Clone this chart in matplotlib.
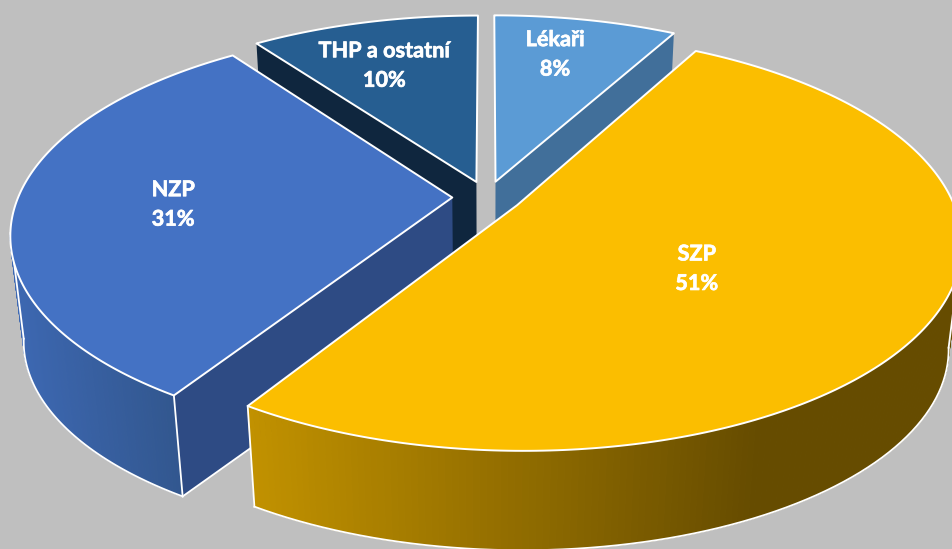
import numpy as np
import matplotlib
matplotlib.use("Agg")
import matplotlib.pyplot as plt
import matplotlib.patheffects as pe
from matplotlib.colors import to_rgb
from matplotlib.patches import Polygon

# slices, clockwise from 12 o'clock
labels = ["Lékaři", "SZP", "NZP", "THP a ostatní"]
shares = [8, 51, 31, 10]

top_colors = ["#5B9BD5", "#FBBE00", "#4472C4", "#265E91"]
inner_colors = ["#416F9A", "#664C00", "#2E4B84", "#0F263E"]
# outer wall gradient, from the left end to the right end
outer_left = ["#416F9A", "#C29200", "#3D68B2", "#1B4468"]
outer_right = ["#416F9A", "#664C00", "#32578F", "#1B4468"]
label_radius = [0.72, 0.46, 0.62, 0.70]
label_shift_x = [-8, -2, -9, -10]   # px
label_shift_y = [-6, 14, 3, 0]      # px

BG = "#BFBFBF"
CX, CY = 487, 197       # pie centre on screen
A, B = 434, 200         # ellipse half axes before perspective
P = 0.173               # perspective strength
EXPLODE = 0.08          # radial offset of the slices
DROP = 106.5            # height of the pie on screen
SHRINK = 0.972          # bottom plane is a bit smaller
LW = 1.3


def project(x, y):
    w = 1 + P * y
    return CX + A * x / w, CY - B * y / w


def lower(sx, sy):
    # same point on the bottom plane
    return CX + (sx - CX) * SHRINK, CY + (sy - CY) * SHRINK + DROP


def slice_points(start, end, n=240):
    theta = np.radians(np.linspace(start, end, n))
    mid = np.radians((start + end) / 2)
    ox, oy = EXPLODE * np.sin(mid), EXPLODE * np.cos(mid)
    arc_x, arc_y = project(ox + np.sin(theta), oy + np.cos(theta))
    return project(ox, oy), arc_x, arc_y, theta


def cut_wall(ax, p1, p2, color, z):
    lo1, lo2 = lower(*p1), lower(*p2)
    ax.add_patch(Polygon([p1, p2, lo2, lo1], fc=color, ec="none", zorder=z))
    ax.plot([lo1[0], lo2[0]], [lo1[1], lo2[1]], color="white", lw=LW, zorder=z + 1)


fig = plt.figure(figsize=(9.52, 5.49), dpi=100, facecolor=BG)
ax = fig.add_axes([0, 0, 1, 1])
ax.set_xlim(0, 952)
ax.set_ylim(549, 0)
ax.axis("off")

edges = np.concatenate([[0], np.cumsum(shares)]) * 3.6
draw_order = [0, 3, 2, 1]   # back slices first

for z, i in enumerate(draw_order):
    start, end = edges[i], edges[i + 1]
    apex, arc_x, arc_y, theta = slice_points(start, end)
    base = z * 10

    # cut walls, only the ones that face the viewer
    if np.sin(np.radians(start)) < -1e-6:
        cut_wall(ax, apex, (arc_x[0], arc_y[0]), inner_colors[i], base + 1)
    if np.sin(np.radians(end)) > 1e-6:
        cut_wall(ax, apex, (arc_x[-1], arc_y[-1]), inner_colors[i], base + 1)

    # outer wall, front part of the rim only, split in strips for the gradient
    front = np.cos(theta) <= -P
    if front.any():
        fx, fy = arc_x[front], arc_y[front]
        lo_x, lo_y = lower(fx, fy)
        c1, c2 = np.array(to_rgb(outer_left[i])), np.array(to_rgb(outer_right[i]))
        x_lo, x_hi = fx.min(), min(fx.max(), 760)
        for k in range(len(fx) - 1):
            t = np.clip((fx[k] - x_lo) / max(x_hi - x_lo, 1), 0, 1)
            col = c1 + (c2 - c1) * t
            ax.fill([fx[k], fx[k + 1], lo_x[k + 1], lo_x[k]],
                    [fy[k], fy[k + 1], lo_y[k + 1], lo_y[k]],
                    fc=col, ec=col, lw=0.8, zorder=base + 2)
        ax.plot(lo_x, lo_y, color="white", lw=LW, zorder=base + 3)
        for j in (0, -1):
            ax.plot([fx[j], lo_x[j]], [fy[j], lo_y[j]], color="white", lw=LW, zorder=base + 3)

    # top face
    top = np.column_stack([np.r_[apex[0], arc_x], np.r_[apex[1], arc_y]])
    ax.add_patch(Polygon(top, fc=top_colors[i], ec="white", lw=1.4, zorder=base + 5, joinstyle="round"))

    # data label
    mid = np.radians((start + end) / 2)
    r = label_radius[i] + EXPLODE
    lx, ly = project(r * np.sin(mid), r * np.cos(mid))
    txt = ax.text(lx + label_shift_x[i], ly + label_shift_y[i], f"{labels[i]}\n{shares[i]}%",
                  color="white", family="Lato", weight="bold",
                  fontsize=15.6, ha="center", va="center", linespacing=1.5, zorder=100)
    txt.set_path_effects([pe.withStroke(linewidth=0.5, foreground="white")])

fig.savefig("out.png", dpi=100, facecolor=BG)
